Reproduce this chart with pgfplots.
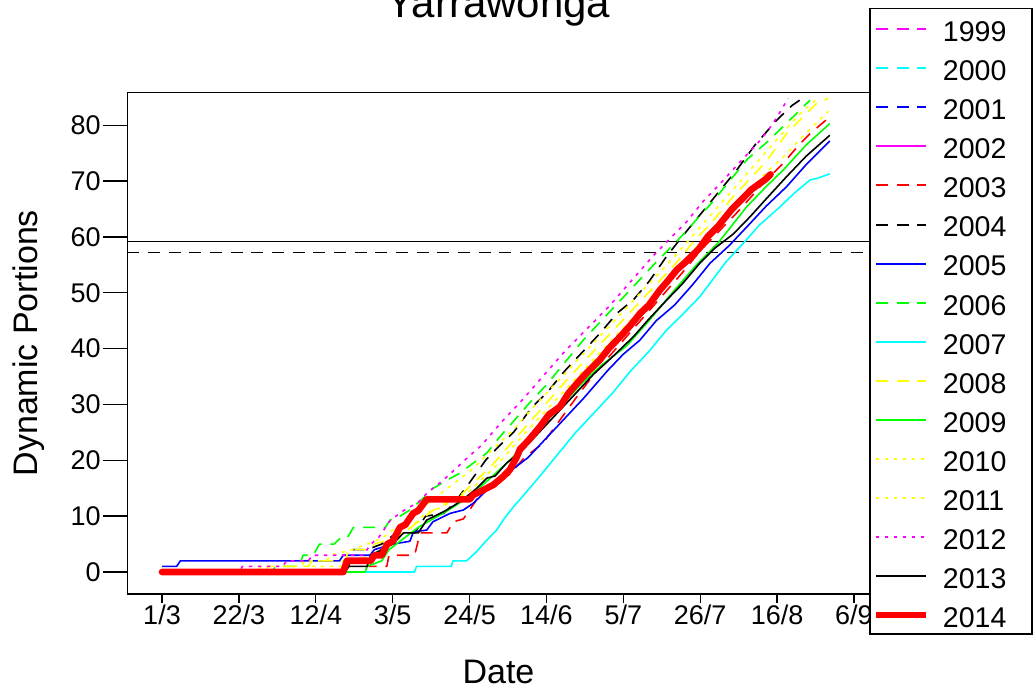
\documentclass[border=0pt]{standalone}
\usepackage{pgfplots}
\pgfplotsset{compat=1.18}
\usepackage{fontspec}
\setmainfont{Liberation Sans}

\definecolor{rMagenta}{RGB}{255,0,255}
\definecolor{rCyan}{RGB}{0,255,255}
\definecolor{rBlue}{RGB}{0,0,255}
\definecolor{rRed}{RGB}{255,0,0}
\definecolor{rGreen}{RGB}{0,255,0}
\definecolor{rYellow}{RGB}{255,255,0}

\tikzset{
  yrdash/.style={dash pattern=on 9pt off 6.5pt},
  yrdot/.style={dash pattern=on 2.5pt off 4.25pt},
  thin line/.style={line width=1.2pt, line join=round},
  s1999/.style={rMagenta, thin line, yrdash},
  s2000/.style={rCyan, thin line, yrdash},
  s2001/.style={rBlue, thin line, yrdash},
  s2002/.style={rMagenta, thin line},
  s2003/.style={rRed, thin line, yrdash},
  s2004/.style={black, thin line, yrdash},
  s2005/.style={rBlue, thin line},
  s2006/.style={rGreen, thin line, yrdash},
  s2007/.style={rCyan, thin line},
  s2008/.style={rYellow, thin line, yrdash},
  s2009/.style={rGreen, thin line},
  s2010/.style={rYellow, thin line, yrdot},
  s2011/.style={rYellow, thin line, yrdot},
  s2012/.style={rMagenta, thin line, yrdot},
  s2013/.style={black, thin line},
  s2014/.style={rRed, line width=5pt, line join=round},
  key/.style={line cap=butt},
  thinkey/.style={line cap=butt, line width=1.5pt},
  keytext/.style={anchor=base west, inner sep=0pt, font=\fontsize{21.4}{25}\selectfont},
}

\begin{document}
\begin{tikzpicture}
\useasboundingbox (0,0) rectangle (776.25pt,514.5pt);
\clip (0,0) rectangle (776.25pt,514.5pt);
\begin{axis}[
  at={(95.475pt,69pt)}, anchor=south west,
  scale only axis, width=556.8pt, height=376.275pt,
  xmin=-9.48, xmax=193.3, ymin=-3.94, ymax=85.9,
  axis line style={line width=1pt},
  xtick={0,21,42,63,84,105,126,147,168,189},
  xticklabels={1/3,22/3,12/4,3/5,24/5,14/6,5/7,26/7,16/8,6/9},
  ytick={0,10,20,30,40,50,60,70,80},
  xtick pos=bottom, ytick pos=left,
  tick align=outside,
  major tick length=18pt,
  every tick/.style={black, line width=1pt},
  xtick style={/pgfplots/major tick length=6.75pt},
  tick label style={font=\fontsize{20.25}{24}\selectfont},
  /pgf/number format/assume math mode=true,
  yticklabel style={inner sep=0pt, anchor=east, xshift=-1.8pt},
  xticklabel style={inner sep=0pt, anchor=base, yshift=-4.5pt},
  xlabel={Date},
  xlabel style={at={(axis description cs:0.5,-0.1774)}, anchor=base,
    font=\fontsize{25.5}{30}\selectfont},
  ylabel={Dynamic Portions},
  ylabel style={at={(axis description cs:-0.1203,0.5)}, anchor=base, rotate=0,
    font=\fontsize{25.5}{30}\selectfont},
  title={Yarrawonga},
  every axis title/.style={at={(axis description cs:0.5,1.149)}, anchor=base,
    font=\fontsize{31.5}{36}\selectfont},
]

% reference levels
\addplot[black, line width=1pt] coordinates {(-9.48,59.2) (193.3,59.2)};
\addplot[black, line width=1pt, yrdash] coordinates {(-9.48,57.2) (193.3,57.2)};

% 2003
\addplot[s2003] coordinates {
(0,0) (55.5,0) (56,1) (61.4,1) (62,3) (69,3) (70.5,7) (77.8,7) (79.6,9) (82.3,9.5)
(86,13) (90,15.5) (95,17.5) (99,20.5) (104,23) (109,27.5) (114,32) (118.7,36)
(124,40) (130,44.5) (136,49) (142,53.5) (147,57.5) (152.4,61.2) (158,65)
(164,69.5) (169.7,73.2) (174,76.5) (177,78.5) (181.5,81)};

% 2004
\addplot[s2004] coordinates {
(0,0) (50,0) (51,1) (52,4) (56,4) (60,5) (64,7) (69,7) (72,10) (77,10.5) (80,12.5)
(84,16) (88.5,20.1) (92,22.5) (96,25) (101,29.5) (105,32) (110,36) (115,39.5)
(120,43) (124.2,46.3) (128.7,48.7) (133,52) (137.8,56.5) (142,60) (147,64)
(152,68) (157,72) (162,76.5) (167.9,80.9) (172,83.5) (174.2,84.5)};

% 2005
\addplot[s2005] coordinates {
(0,1) (4,1) (5,2) (48.5,2) (49.5,3) (56.8,3) (58,4) (63,5) (67.7,5.5) (68.7,7.2)
(72.3,7.5) (74,9) (78.7,10.5) (82.3,11.1) (85,12.3) (90,15.5) (95,18) (100,20.5)
(105,24) (110,27.5) (115,31) (121.9,36.2) (126,39) (130.5,41.5) (135,45)
(140,47.8) (145,51.5) (149.7,55.3) (155,58.5) (160.6,62.4) (165,65.5)
(170.6,69) (176,73) (182.4,77.2)};

% 2006
\addplot[s2006] coordinates {
(0,0) (30,0) (31,1) (37.5,1) (38.5,3) (41.3,3) (43,5) (47,5) (48.6,6) (50.5,6)
(52.3,8) (61,8) (62.3,9.3) (65,10) (67.7,11.1) (71,13) (74.1,15) (78,16.5)
(81.4,17.7) (85,19.5) (88.7,21.3) (92,24) (95.1,26.3) (100,30) (105,33.5)
(110,37.5) (115,41.5) (120,45) (125,48.5) (130,52) (135,55.5) (141,59.5)
(144.2,61.8) (150,66) (155,70) (160,74) (166,77.4) (170,80) (173.3,82.1) (177,84.5)};

% 2007
\addplot[s2007] coordinates {
(0,0) (69,0) (69.5,1) (79,1) (79.5,2) (83.2,2) (86,3.7) (88.7,5.7) (91.4,7.5)
(93.2,9.3) (96,11.7) (97.8,13) (103,17) (108,21) (113,25) (118,28.5) (123,32)
(128,36) (133,39.5) (137.8,43.3) (142,46) (146.9,49.3) (150,52) (154,55.5)
(158.8,58.9) (163,62) (168.8,65.4) (173,68) (177,70.2) (179,70.5) (182.4,71.3)};

% 2008
\addplot[s2008] coordinates {
(0,0) (28,0) (29,1) (40,1) (41,2) (50,2) (51,4) (57,4) (58,5) (63,6) (66,7) (70,9)
(74,11) (78,12.5) (82,14) (86,16.5) (90,19) (94,22) (98,25) (102,28) (106,31)
(110,34) (115,37.5) (120,41) (125,44.5) (130,48) (135,51.5) (140,55) (145,59)
(150,62.5) (156,67.2) (160,70) (165,73.5) (170.6,78.5) (174.2,80.9) (178.8,83.9)
(182,84.8)};

% 2009
\addplot[s2009] coordinates {
(0,0) (55.5,0) (56,1) (60,2) (62,4) (66,6) (70,8) (74,9.5) (78,11) (84,13.5)
(90,17) (95,20) (100,23.5) (105,27) (110,30.5) (115,34) (120,37) (126.9,40.5)
(133,45) (140,50.5) (146,55) (152,59) (159.7,65.4) (165,69) (169.7,72) (176,76.5)
(182.4,80.3)};

% 2010
\addplot[s2010] coordinates {
(0,0) (26,0) (27,1) (38,1) (39,2) (45,2) (46,3) (52,4) (56,5) (60,6) (64,8) (68,10)
(72,12) (76,14) (80,16) (84,18) (88,20.5) (92,23) (96,25.5) (100,28.5) (105,32)
(110,35.5) (115,39) (120,42.5) (125,46) (130,49.5) (135,53) (140,56.5) (144,59.5)
(148,62.5) (152,65.5) (156,68.5) (160,71.5) (164,74.5) (168,77.5) (172,80.5)
(175,82.5) (178.5,84.5)};

% 2011
\addplot[s2011] coordinates {
(0,0) (40,0) (41,1) (52,1) (53,2) (57,3) (60,4) (64,6) (68,8) (72,10.5) (76,11.5)
(80,13) (84,14.5) (88,17) (92,19.5) (96,22.5) (100,25.5) (105,29) (110,32.5)
(115,36) (120,39.5) (125,43) (130,46.5) (135,50) (140,54) (145,57.5) (150,61)
(155,64.5) (160,68) (165,71.5) (170,74.5) (175,78) (182,82.5)};

% 2012
\addplot[s2012] coordinates {
(0,0) (21,0) (22,1) (33,1) (34,2) (40,2) (41,3) (55,3) (57,5) (59,6) (62.4,9.3)
(66,11) (70,12.5) (73,14.5) (76.4,16.2) (79.9,18.3) (83.5,20.5) (87.3,22.7)
(92.8,26.9) (98,30.5) (104,35) (110,39.5) (116,43.5) (122,47.5) (128,52)
(134,56.5) (139.2,60) (143,62.5) (148,66.5) (152.4,69.5) (158,73.5) (163,77)
(166,79.5) (168.5,82) (171,84.8)};

% 2013
\addplot[s2013] coordinates {
(0,0) (50,0) (51,1) (56,1) (57,3) (60,4) (63,5) (66,7) (70,7) (72.3,9.3) (77.5,11)
(80,12) (83.2,13.5) (86,15) (88.7,16.8) (91,17.2) (94.1,19.5) (98,21.5) (103,25)
(108,28.5) (113,32) (118,35.5) (123,38.5) (128.7,42.1) (133,45.3) (138,48.8)
(142,51.5) (146.9,55.3) (151,58) (156,60.5) (160.6,63.6) (165,66.8) (170.6,70.8)
(176,74.5) (182.4,78.2)};

% 2014
\addplot[s2014, line cap=round] coordinates {
(0,0) (49.5,0) (50.5,2) (57,2) (58,3) (60,3) (61.5,5) (63,5.5) (65,8) (66.5,8.5)
(68.6,10.5) (70,11) (72.3,13) (84,13) (85,13.8) (87.8,14.7) (90.5,15.6) (93.2,17.1)
(95,18.3) (96.9,20.6) (97.8,22) (100,23.5) (103.2,26) (105.7,28.2) (108.7,29.6)
(111,32) (114.2,34.4) (116.5,36) (119.6,38) (122,40) (125.1,42.1) (128,44.2)
(130.6,46.3) (133,47.8) (136,50.5) (138,52) (140.6,54.1) (143,55.5) (146.7,57.9)
(149,60) (152,62) (155.7,65) (158,66.5) (161,68.5) (164.8,70.3) (166.2,71.2)};

\end{axis}

% key box to the right of the panel, one row per season
\draw[line width=1pt, fill=white] (652.5pt,39pt) rectangle (774pt,508.125pt);
\draw[s1999, thinkey] (657pt,492.525pt) -- (694.5pt,492.525pt);
\draw[s2000, thinkey] (657pt,463.2375pt) -- (694.5pt,463.2375pt);
\draw[s2001, thinkey] (657pt,433.95pt) -- (694.5pt,433.95pt);
\draw[s2002, thinkey] (657pt,404.6625pt) -- (694.5pt,404.6625pt);
\draw[s2003, thinkey] (657pt,375.375pt) -- (694.5pt,375.375pt);
\draw[s2004, thinkey] (657pt,346.0875pt) -- (694.5pt,346.0875pt);
\draw[s2005, thinkey] (657pt,316.8pt) -- (694.5pt,316.8pt);
\draw[s2006, thinkey] (657pt,287.5125pt) -- (694.5pt,287.5125pt);
\draw[s2007, thinkey] (657pt,258.225pt) -- (694.5pt,258.225pt);
\draw[s2008, thinkey] (657pt,228.9375pt) -- (694.5pt,228.9375pt);
\draw[s2009, thinkey] (657pt,199.65pt) -- (694.5pt,199.65pt);
\draw[s2010, thinkey] (657pt,170.3625pt) -- (694.5pt,170.3625pt);
\draw[s2011, thinkey] (657pt,141.075pt) -- (694.5pt,141.075pt);
\draw[s2012, thinkey] (657pt,111.7875pt) -- (694.5pt,111.7875pt);
\draw[s2013, thinkey] (657pt,82.5pt) -- (694.5pt,82.5pt);
\draw[s2014, key] (657pt,53.2125pt) -- (694.5pt,53.2125pt);
\node[keytext] at (707pt,483.225pt) {1999};
\node[keytext] at (707pt,453.9375pt) {2000};
\node[keytext] at (707pt,424.65pt) {2001};
\node[keytext] at (707pt,395.3625pt) {2002};
\node[keytext] at (707pt,366.075pt) {2003};
\node[keytext] at (707pt,336.7875pt) {2004};
\node[keytext] at (707pt,307.5pt) {2005};
\node[keytext] at (707pt,278.2125pt) {2006};
\node[keytext] at (707pt,248.925pt) {2007};
\node[keytext] at (707pt,219.6375pt) {2008};
\node[keytext] at (707pt,190.35pt) {2009};
\node[keytext] at (707pt,161.0625pt) {2010};
\node[keytext] at (707pt,131.775pt) {2011};
\node[keytext] at (707pt,102.4875pt) {2012};
\node[keytext] at (707pt,73.2pt) {2013};
\node[keytext] at (707pt,43.9125pt) {2014};
\end{tikzpicture}
\end{document}
